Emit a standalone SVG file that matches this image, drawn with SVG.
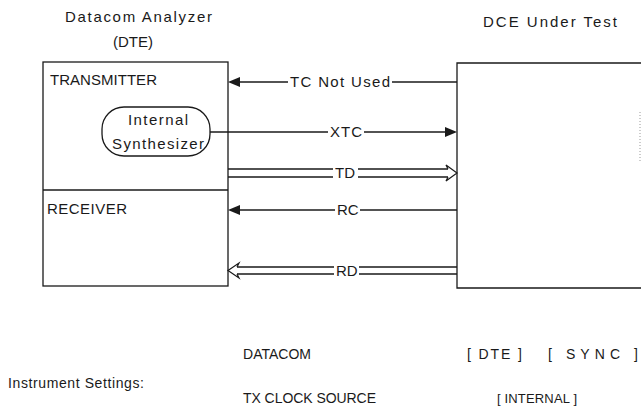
<svg xmlns="http://www.w3.org/2000/svg" width="641" height="413" viewBox="0 0 641 413">
<defs>
<style>
text{font-family:"Liberation Sans","DejaVu Sans",Arial,sans-serif;font-size:15px;fill:#1a1a1a}
.s{font-size:14px}
.box{fill:none;stroke:#1a1a1a;stroke-width:1.3}
.ln{fill:none;stroke:#1a1a1a;stroke-width:1.3}
.open{fill:#fff;stroke:#1a1a1a;stroke-width:1.2;stroke-linejoin:miter}
.head{fill:#1a1a1a}
.dot{fill:none;stroke:#999;stroke-width:1;stroke-dasharray:1 2}
</style>
</defs>
<rect width="641" height="413" fill="#fff"/>
<g id="titles">
<text x="65" y="22" textLength="147" lengthAdjust="spacing">Datacom Analyzer</text>
<text x="133" y="47" text-anchor="middle">(DTE)</text>
<text x="483" y="27" textLength="134" lengthAdjust="spacing">DCE Under Test</text>
</g>
<g id="analyzer">
<rect class="box" x="43" y="62" width="185" height="224"/>
<line class="box" x1="43" y1="190" x2="228" y2="190"/>
<text x="50" y="85" textLength="107" lengthAdjust="spacing">TRANSMITTER</text>
<text x="47" y="214" textLength="80" lengthAdjust="spacing">RECEIVER</text>
</g>
<g id="synth">
<rect class="box" x="102" y="107" width="108" height="49" rx="22" ry="22"/>
<text x="128" y="125" textLength="60" lengthAdjust="spacing">Internal</text>
<text x="112" y="149" textLength="92" lengthAdjust="spacing">Synthesizer</text>
</g>
<g id="dce">
<path class="box" d="M642,63 H457 V288 H642"/>
<line class="dot" x1="640" y1="112" x2="640" y2="163"/>
</g>
<g id="connectors">
<line class="ln" x1="238" y1="82" x2="288" y2="82"/>
<line class="ln" x1="392" y1="82" x2="457" y2="82"/>
<path class="head" d="M228,82 L240,77 L240,87 Z"/>
<text x="290" y="87" textLength="100" lengthAdjust="spacing">TC Not Used</text>

<line class="ln" x1="210" y1="132" x2="328" y2="132"/>
<line class="ln" x1="364" y1="132" x2="447" y2="132"/>
<path class="head" d="M457,132 L445,127 L445,137 Z"/>
<text x="330" y="137" textLength="32" lengthAdjust="spacing">XTC</text>

<path class="ln" d="M228,169 H333 M358,169 H448 M228,177 H333 M358,177 H448"/>
<path class="open" d="M448,169 L446,165 L457,173 L446,181 L448,177"/>
<text x="335" y="178">TD</text>

<line class="ln" x1="238" y1="210" x2="335" y2="210"/>
<line class="ln" x1="360" y1="210" x2="457" y2="210"/>
<path class="head" d="M228,210 L240,205 L240,215 Z"/>
<text x="337" y="215">RC</text>

<path class="ln" d="M237,267 H334 M359,267 H457 M237,274 H334 M359,274 H457"/>
<path class="open" d="M237,267 L239,263 L228,270.5 L239,278 L237,274"/>
<text x="336" y="276">RD</text>
</g>
<g id="settings">
<text class="s" x="8" y="388" textLength="136" lengthAdjust="spacing">Instrument Settings:</text>
<text class="s" x="243" y="359" textLength="68" lengthAdjust="spacing">DATACOM</text>
<text class="s" x="243" y="403" textLength="133" lengthAdjust="spacing">TX CLOCK SOURCE</text>
<text class="s" x="467" y="359" textLength="55" lengthAdjust="spacing">[ DTE ]</text>
<text class="s" x="548" y="359" textLength="90" lengthAdjust="spacing">[ SYNC ]</text>
<text x="497" y="403" style="font-size:13px" textLength="80" lengthAdjust="spacing">[ INTERNAL ]</text>
</g>
</svg>
